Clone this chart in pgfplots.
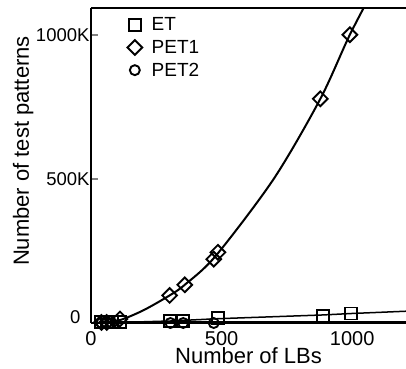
\documentclass[border=0pt]{standalone}
\usepackage{pgfplots}
\pgfplotsset{compat=1.18}
\usepackage{fontspec}
\setmainfont{Liberation Sans}
\newcommand{\lgf}{\fontsize{19}{21}\selectfont}
\begin{document}
\begin{tikzpicture}
\begin{axis}[
  scale only axis,
  width=315pt, height=315pt,
  xmin=0, xmax=1206, ymin=-2, ymax=1094,
  axis x line=box, axis y line=left,
  axis line style={line width=1.8pt,-},
  xtick={0,500,1000}, xticklabels={0,500,1000},
  ytick={500,1000}, yticklabels={500K,1000K},
  extra y ticks={0}, extra y tick labels={0},
  extra y tick style={yticklabel style={xshift=-9pt, yshift=5pt}, major tick length=0pt},
  tick align=inside,
  major tick length=7pt,
  xtick style={draw=none},
  ytick style={line width=1.6pt},
  /pgf/number format/assume math mode=true,
  yticklabel style={font=\fontsize{18.5}{20}\selectfont, xshift=2pt},
  xticklabel style={font=\fontsize{20}{22}\selectfont, anchor=base, yshift=-22pt},
  xlabel={Number of LBs},
  ylabel={Number of test patterns},
  label style={font=\fontsize{22}{24}\selectfont},
  xlabel style={at={(axis description cs:0.5,0)}, anchor=base, yshift=-40pt},
  ylabel style={at={(axis description cs:-0.197,0.546)}, anchor=base, rotate=0},
  clip mode=individual,
  legend style={draw=none, fill=none, at={(rel axis cs:0.112,0.978)}, anchor=north west,
    nodes={inner sep=1.5pt},
    row sep=5pt, inner sep=1pt,
    /tikz/every odd column/.append style={column sep=8pt}},
  legend cell align=left,
  legend image code/.code={\draw[#1] plot coordinates {(0.2cm,0cm)};},
]
% line for ET
\addplot[line width=1.5pt, forget plot] coordinates {(40,0) (110,0) (304,5) (486,13) (887,26) (996,31) (1206,39)};
% line for PET1
\addplot[line width=2pt, smooth, forget plot] coordinates {(40,0) (110,8) (200,42) (301,94) (359,131) (478,232) (700,500) (878,778) (991,1001) (1100,1190)};
% line for PET2
\addplot[line width=3pt, forget plot] coordinates {(40,0) (1206,0)};
\addplot[only marks, mark=square, mark size=6pt, mark options={line width=1.9pt, fill=white}]
  coordinates {(40,0) (60,0) (80,0) (110,0) (304,6) (353,6) (486,15) (887,23) (996,31)};
\addlegendentry{\lgf ET}
\addplot[only marks, mark=square, mark size=5.2pt, mark options={line width=1.9pt, fill=white, rotate=45}]
  coordinates {(40,0) (60,0) (111,12) (301,94) (359,131) (470,220) (486,244) (878,778) (991,1001)};
\addlegendentry{\lgf PET1}
\addplot[only marks, mark=o, mark size=5pt, mark options={line width=1.9pt, fill=white}]
  coordinates {(40,-2) (60,-2) (80,-2) (304,-2) (353,-2) (470,-2) (887,-4) (996,-4)};
\addlegendentry{\lgf PET2}
\end{axis}
\pgfresetboundingbox
\path (current axis.south west) ++(-91pt,-45pt) rectangle ++(406pt,368pt);
\end{tikzpicture}
\end{document}
